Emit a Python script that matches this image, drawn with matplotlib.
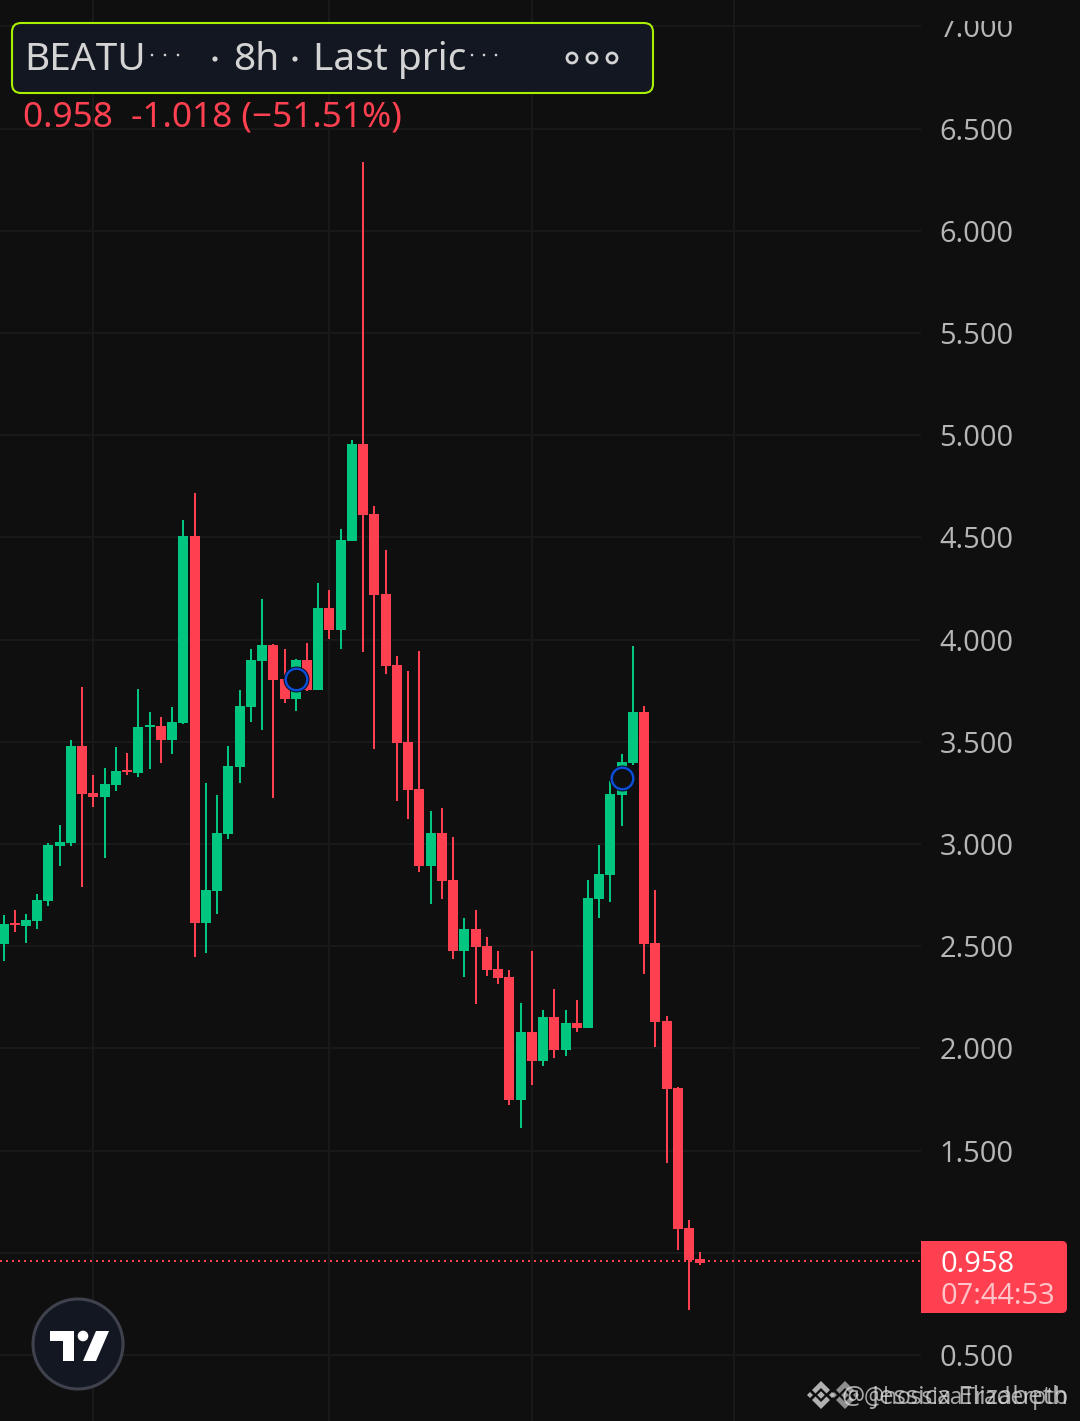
import matplotlib
matplotlib.use("Agg")
import matplotlib.pyplot as plt
from matplotlib.patches import FancyBboxPatch, Circle, Polygon, Rectangle

# Candle data (prices)
highs = [2.652,2.677,2.657,2.755,3.005,3.092,3.508,3.767,3.337,3.372,3.473,3.445,3.758,3.644,3.620,3.669,4.584,4.717,3.298,3.239,3.478,3.753,3.954,4.198,3.978,3.954,3.905,3.983,4.277,4.242,4.541,4.976,6.337,4.652,4.437,3.919,3.845,3.943,3.160,3.176,3.033,2.637,2.676,2.544,2.475,2.382,2.221,2.475,2.186,2.289,2.186,2.235,2.823,2.994,3.309,3.440,3.967,3.674,2.774,2.157,1.809,1.162,1.005]
lows = [2.427,2.568,2.516,2.584,2.696,2.891,2.989,2.788,3.180,2.932,3.258,3.337,3.326,3.367,3.396,3.440,3.587,2.446,2.467,2.657,3.024,3.298,3.595,3.557,3.225,3.690,3.650,3.750,3.753,4.002,3.954,4.481,3.938,3.464,3.831,3.209,3.122,2.862,2.706,2.731,2.437,2.348,2.216,2.353,2.314,1.721,1.613,1.819,1.912,1.951,1.961,2.078,2.098,2.638,2.715,3.087,3.386,2.364,2.005,1.441,1.015,0.720,0.941]
opens = [2.510,2.615,2.598,2.622,2.720,2.989,3.005,3.478,3.250,3.229,3.288,3.361,3.347,3.573,3.576,3.508,3.592,4.506,2.614,2.769,3.049,3.375,3.669,3.894,3.973,3.807,3.709,3.899,3.753,4.154,4.046,4.481,4.956,4.614,4.223,3.875,3.498,3.269,2.891,3.054,2.823,2.475,2.583,2.500,2.387,2.348,1.750,2.078,1.936,2.152,1.990,2.123,2.098,2.731,2.848,3.239,3.396,3.644,2.516,2.132,1.804,1.123,0.971]
closes = [2.608,2.605,2.627,2.725,2.994,3.008,3.478,3.244,3.229,3.293,3.356,3.351,3.571,3.583,3.508,3.595,4.506,2.614,2.774,3.054,3.381,3.674,3.899,3.973,3.802,3.709,3.899,3.753,4.154,4.046,4.486,4.956,4.609,4.217,3.870,3.494,3.264,2.891,3.054,2.818,2.476,2.583,2.495,2.382,2.343,1.750,2.078,1.936,2.152,1.990,2.123,2.098,2.736,2.853,3.244,3.400,3.644,2.511,2.127,1.799,1.118,0.966,0.951]
price_ticks = [0.5,1.0,1.5,2.0,2.5,3.0,3.5,4.0,4.5,5.0,5.5,6.0,6.5,7.0]
time_ticks = [8,29,47,65]
marker_idx = [26,55]
marker_price = [3.807,3.323]
last_price = 0.958

BG='#0f0f0f'; GRID='#191919'; UP='#00c67f'; DOWN='#ff4050'; TXT='#b6b6b6'
FONT=['Open Sans','DejaVu Sans']
plt.rcParams['font.family']=FONT

W,H=1080,1421
fig=plt.figure(figsize=(W/100,H/100),dpi=100,facecolor=BG)
ax=fig.add_axes([0,0,921/W,1],facecolor=BG)
ax.set_xlim(-3.5/11.24,917.5/11.24)
ax.set_ylim(0.5-66/204.4,0.5+1355/204.4)
for s in ax.spines.values(): s.set_visible(False)
ax.set_yticks(price_ticks)
ax.set_yticklabels(['' if p==1.0 else f'{p:.3f}' for p in price_ticks],fontsize=20.9,color=TXT)
ax.yaxis.tick_right()
ax.tick_params(axis='y',length=0,pad=13.2)
ax.set_xticks(time_ticks); ax.tick_params(axis='x',length=0,labelbottom=False)
ax.grid(True,color=GRID,lw=1.44,zorder=0)
ax.set_axisbelow(True)

idx=list(range(len(opens)))
cols=[UP if c>=o else DOWN for o,c in zip(opens,closes)]
ax.vlines(idx,lows,highs,colors=cols,lw=1.44,zorder=2)
ax.bar(idx,[abs(c-o) for o,c in zip(opens,closes)],bottom=[min(o,c) for o,c in zip(opens,closes)],
       width=10/11.24,color=cols,lw=0,zorder=3)
ax.axhline(last_price,color=DOWN,lw=1.44,ls=(0,(1,2)),zorder=4)
ax.plot(marker_idx,marker_price,ls='',marker='o',ms=15.5,mfc=BG,mec='#0a0f1e',mew=3.2,zorder=5)
ax.plot(marker_idx,marker_price,ls='',marker='o',ms=15.5,mfc='none',mec='#0b4fd8',mew=1.7,zorder=6)

# Overlay in pixel coordinates for the app chrome
ov=fig.add_axes([0,0,1,1],facecolor='none'); ov.set_xlim(0,W); ov.set_ylim(H,0); ov.axis('off')
ov.add_patch(Rectangle((921,0),159,20.5,fc=BG,ec='none',zorder=1))
ov.add_patch(FancyBboxPatch((12,23),641,70,boxstyle='round,pad=0,rounding_size=9',fc='#131722',ec='#a9f000',lw=1.5))
HC='#d4d4d4'
for x,s in [(24,'BEATU'),(233,'8h'),(313,'Last pric')]:
    ov.text(x,70,s,fontsize=28,color=HC,family=['Noto Sans','DejaVu Sans'],va='baseline')
for x in [152,165,178,472,484,496]:
    ov.add_patch(Circle((x,55),1.3,fc=HC,ec='none'))
for x in [215,295]:
    ov.add_patch(Circle((x,59),2.6,fc=HC,ec='none'))
for x in [572,592,612]:
    ov.add_patch(Circle((x,58),5,fc='none',ec=HC,lw=2))
ov.text(23,127,'0.958  -1.018 (−51.51%)',fontsize=25.3,color=DOWN,family=['Noto Sans','DejaVu Sans'],va='baseline')

# Price tag
ov.add_patch(Rectangle((921,1241),140,72,fc=DOWN,ec='none'))
ov.add_patch(FancyBboxPatch((1040,1241),27,72,boxstyle='round,pad=0,rounding_size=5',fc=DOWN,ec='none'))
ov.text(940,1272,f'{last_price:.3f}',fontsize=20.9,color='white',va='baseline')
ov.text(940,1304,'07:44:53',fontsize=20.9,color='#ffc4c9',va='baseline')

# TradingView badge
ov.add_patch(Circle((78,1344),45,fc='#131722',ec='#3f424c',lw=2.2))
T=[(50,1331),(74,1331),(74,1361),(63,1361),(63,1341),(50,1341)]
S=[(96,1331),(109,1331),(96,1361),(83,1361)]
ov.add_patch(Polygon(T,fc='white',ec='none')); ov.add_patch(Polygon(S,fc='white',ec='none'))
ov.add_patch(Circle((83,1336),5.3,fc='white',ec='none'))

# Watermark (Binance mark and two overlapping handles)
def logo(cx,cy,a):
    col='#c4c4c4'
    top=[(0,-14),(9,-5),(5.5,-1.5),(0,-7),(-5.5,-1.5),(-9,-5)]
    ov.add_patch(Polygon([(cx+x,cy+y) for x,y in top],fc=col,ec='none',alpha=a))
    ov.add_patch(Polygon([(cx+x,cy-y) for x,y in top],fc=col,ec='none',alpha=a))
    for dx,s in [(0,3.8),(-11,3),(11,3)]:
        ov.add_patch(Polygon([(cx+dx,cy-s),(cx+dx+s,cy),(cx+dx,cy+s),(cx+dx-s,cy)],fc=col,ec='none',alpha=a))
logo(821,1395,.9); logo(845,1395,.7)
ov.text(842,1404,'@ Jessica Elizabeth',fontsize=18.6,color='#dddddd',alpha=.75,va='baseline',ha='left')
ov.text(864,1404,'@hossixaTraderptb',fontsize=16.3,color='#dddddd',alpha=.75,va='baseline',ha='left')

fig.savefig('out.png',dpi=100,facecolor=BG)
